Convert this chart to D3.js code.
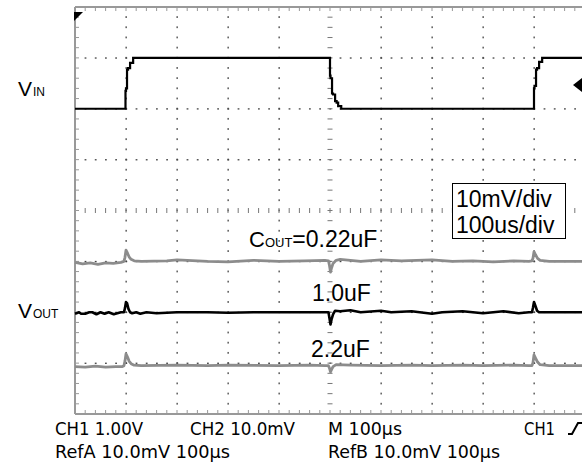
<!DOCTYPE html>
<html>
<head>
<meta charset="utf-8">
<script src="https://cdn.jsdelivr.net/npm/d3@7"></script>
<style>
  html, body { margin: 0; padding: 0; background: #fff; }
  svg { display: block; }
  .lbl { font-family: "Liberation Sans", Arial, sans-serif; fill: #000; }
  .scope { font-family: "Liberation Sans Narrow", "DejaVu Sans Condensed", "Liberation Sans", sans-serif; font-stretch: condensed; fill: #000; }
</style>
</head>
<body>
<svg id="chart" width="582" height="472"></svg>
<script>
// ---- data ----
// time axis: 0..1000 us (100 us/div, 10 div); vertical: -4..4 div
const timeTicks = [0, 100, 200, 300, 400, 500, 600, 700, 800, 900, 1000];
const divTicks = [-4, -3, -2, -1, 0, 1, 2, 3, 4];

// CH1 VIN [time us, volts], 1.00 V/div, channel position +2 div
const vinPos = 2;
const vinT = [0, 98, 99, 100, 102, 104, 108, 114, 498, 500, 501, 504, 506, 510, 513, 516, 522, 898, 900, 901, 904, 906, 910, 916, 1000];
const vinV = [0, 0, 0.35, 0.4, 0.77, 0.8, 0.9, 1.0, 1.0, 0.65, 0.6, 0.3, 0.28, 0.15, 0.12, 0.05, 0, 0, 0.4, 0.45, 0.77, 0.8, 0.92, 1.0, 1.0];

// VOUT traces [time us, mV], 10 mV/div
const voutNames = ["0.22uF", "1.0uF", "2.2uF"];
const voutPos = [-1, -2, -3.05];
const vout022T = [0, 15, 30, 45, 60, 75, 90, 96, 98, 100, 103, 106, 110, 116, 130, 180, 200, 260, 300, 350, 400, 450, 490, 497, 499, 501, 503, 506, 512, 520, 560, 600, 640, 700, 740, 780, 820, 860, 890, 896, 898, 900, 903, 907, 912, 930, 1000];
const vout022V = [-0.2, -0.5, -0.3, -0.6, -0.3, -0.4, -0.2, 0, 0.8, 2.2, 1.6, 0.9, 0.4, 0.1, 0, 0.1, 0.3, 0, -0.1, 0.2, 0, 0.1, 0.2, 0.1, -0.8, -2.1, -1.3, -0.4, 0.2, 0.4, 0, 0.3, 0.1, 0.3, 0, 0.1, -0.1, 0.1, 0, 0.1, 0.6, 1.9, 1.3, 0.6, 0.2, 0, 0];
const vout10T = [0, 8, 12, 20, 28, 34, 42, 50, 58, 66, 76, 90, 96, 98, 100, 102, 105, 108, 112, 120, 128, 140, 160, 200, 260, 300, 350, 400, 460, 490, 497, 499, 501, 503, 506, 510, 520, 540, 560, 600, 620, 660, 700, 720, 760, 800, 840, 870, 890, 896, 898, 900, 903, 906, 910, 940, 1000];
const vout10V = [-0.3, 0, -0.3, -0.3, 0, 0, -0.4, 0, -0.3, 0, -0.4, 0, 0, 0.8, 2.0, 1.8, 0.6, 0, -0.2, 0, -0.3, 0, -0.2, 0, 0, -0.1, 0, 0, 0, 0, 0, -1.2, -2.4, -1.4, -0.4, 0.3, 0.2, 0.4, 0, 0.3, 0, 0.2, -0.3, 0, 0.2, -0.2, 0.2, -0.2, 0, 0, 0.9, 2.0, 1.2, 0.3, 0, 0, 0];
const vout22T = [0, 20, 40, 60, 80, 92, 96, 98, 100, 103, 106, 110, 116, 130, 200, 260, 300, 400, 460, 490, 497, 499, 501, 503, 506, 512, 540, 600, 660, 700, 760, 800, 860, 890, 896, 898, 900, 903, 907, 912, 930, 1000];
const vout22V = [-0.2, -0.3, -0.1, -0.3, -0.2, -0.2, 0, 0.9, 2.3, 1.7, 0.9, 0.4, 0.1, 0, 0.1, 0, 0.1, 0, 0.1, 0, 0, -0.5, -1.2, -0.8, -0.2, 0.2, 0.1, 0, 0.1, 0, 0.1, 0, 0.1, 0, 0, 0.6, 2.1, 1.5, 0.7, 0.2, 0, 0];

const labels = ["=0.22uF", "1.0uF", "2.2uF"];
const boxLines = ["10mV/div", "100us/div"];
const statusRow1 = ["CH1 1.00V", "CH2 10.0mV", "M 100µs", "CH1"];
const statusRow2 = ["RefA 10.0mV 100µs", "RefB 10.0mV 100µs"];

// ---- drawing ----
const svg = d3.select("#chart");
const x = d3.scaleLinear().domain([0, 1000]).range([75, 585]);
const y = d3.scaleLinear().domain([-4, 4]).range([414, 7]);
const mvPerDiv = 10;

// grid dots on major lines
const g = svg.append("g");
const minorT = d3.range(0, 1001, 20);
const minorD = d3.range(-4, 4.001, 0.2);
timeTicks.filter(t => t > 0 && t < 1000 && t !== 500).forEach(t => {
  g.selectAll(null).data(minorD.slice(1, -1)).enter().append("rect")
    .attr("x", x(t) - 0.5).attr("y", d => y(d) - 1).attr("width", 1.3).attr("height", 1.8)
    .attr("fill", "#444");
});
divTicks.filter(d => d > -4 && d < 4 && d !== 0).forEach(dv => {
  g.selectAll(null).data(minorT.slice(1)).enter().append("rect")
    .attr("x", t => x(t) - 0.6).attr("y", y(dv) - 0.5).attr("width", 1.8).attr("height", 1.3)
    .attr("fill", "#444");
});
// center cross ticks
g.selectAll(null).data(minorT.slice(1)).enter().append("line")
  .attr("x1", t => x(t)).attr("x2", t => x(t))
  .attr("y1", y(0) - 2.5).attr("y2", y(0) + 2.5)
  .attr("stroke", "#777").attr("stroke-width", 1);
g.selectAll(null).data(minorD.slice(1, -1)).enter().append("line")
  .attr("x1", x(500) - 2.5).attr("x2", x(500) + 2.5)
  .attr("y1", d => y(d)).attr("y2", d => y(d))
  .attr("stroke", "#777").attr("stroke-width", 1);

// borders with inward ticks
const border = svg.append("g").attr("stroke", "#999").attr("fill", "none");
border.append("line").attr("x1", x(0)).attr("x2", x(1000)).attr("y1", y(4)).attr("y2", y(4)).attr("stroke-width", 2);
border.append("line").attr("x1", x(0)).attr("x2", x(1000)).attr("y1", y(-4)).attr("y2", y(-4)).attr("stroke-width", 2);
border.append("line").attr("x1", x(0)).attr("x2", x(0)).attr("y1", y(4)).attr("y2", y(-4)).attr("stroke-width", 2);
border.selectAll(null).data(minorT).enter().append("line")
  .attr("x1", t => x(t)).attr("x2", t => x(t)).attr("y1", y(4)).attr("y2", y(4) + 4).attr("stroke-width", 1);
border.selectAll(null).data(minorT).enter().append("line")
  .attr("x1", t => x(t)).attr("x2", t => x(t)).attr("y1", y(-4)).attr("y2", y(-4) - 4).attr("stroke-width", 1);
border.selectAll(null).data(minorD).enter().append("line")
  .attr("x1", x(0)).attr("x2", x(0) + 4).attr("y1", d => y(d)).attr("y2", d => y(d)).attr("stroke-width", 1);

// VOUT traces
const voutData = [
  d3.zip(vout022T, vout022V),
  d3.zip(vout10T, vout10V),
  d3.zip(vout22T, vout22V)
];
const voutColors = ["#8c8c8c", "#000", "#8c8c8c"];
voutData.forEach((pts, i) => {
  const line = d3.line().x(p => x(p[0])).y(p => y(voutPos[i] + p[1] / mvPerDiv)).curve(d3.curveLinear);
  svg.append("path").attr("d", line(pts)).attr("fill", "none")
    .attr("stroke", voutColors[i]).attr("stroke-width", i === 1 ? 2.6 : 2.8)
    .attr("stroke-linejoin", "round");
});

// VIN trace
const vinLine = d3.line().x(p => x(p[0])).y(p => y(vinPos + p[1])).curve(d3.curveStepAfter);
svg.append("path").attr("d", vinLine(d3.zip(vinT, vinV))).attr("fill", "none")
  .attr("stroke", "#000").attr("stroke-width", 2.2).attr("stroke-linejoin", "miter");

// markers
svg.append("path").attr("d", `M${x(0) - 1},${y(4) + 5} h9 l-9,9 z`).attr("fill", "#000");
svg.append("path").attr("d", `M573,85 L582,78 L582,92 Z`).attr("fill", "#000");

// labels
function vlabel(xp, yb, sub) {
  const t = svg.append("text").attr("class", "lbl").attr("x", xp).attr("y", yb).attr("font-size", 21);
  t.append("tspan").text("V");
  t.append("tspan").attr("font-size", 12).attr("dx", 1).text(sub);
}
vlabel(18, 96, "IN");
vlabel(18, 318, "OUT");

const cl = svg.append("text").attr("class", "lbl").attr("x", 249).attr("y", 247).attr("font-size", 22);
cl.append("tspan").text("C");
cl.append("tspan").attr("font-size", 13).text("OUT");
cl.append("tspan").attr("font-size", 23).text(labels[0]);
svg.append("text").attr("class", "lbl").attr("x", 312).attr("y", 301).attr("font-size", 23).text(labels[1]);
svg.append("text").attr("class", "lbl").attr("x", 311).attr("y", 357).attr("font-size", 23).text(labels[2]);

svg.append("rect").attr("x", 452.5).attr("y", 183.5).attr("width", 113).attr("height", 55)
  .attr("fill", "#fff").attr("stroke", "#000").attr("stroke-width", 1);
boxLines.forEach((s, i) => {
  svg.append("text").attr("class", "lbl").attr("x", 456).attr("y", 207 + i * 26).attr("font-size", 23).text(s);
});

// status text
const row1X = [55, 190, 328, 524];
const row1W = [88, 105, 74, 31];
statusRow1.forEach((s, i) => {
  svg.append("text").attr("class", "scope").attr("x", row1X[i]).attr("y", 435).attr("font-size", 18)
    .attr("textLength", row1W[i]).attr("lengthAdjust", "spacingAndGlyphs").text(s);
});
const row2X = [55, 328];
const row2W = [175, 172];
statusRow2.forEach((s, i) => {
  svg.append("text").attr("class", "scope").attr("x", row2X[i]).attr("y", 458).attr("font-size", 18)
    .attr("textLength", row2W[i]).attr("lengthAdjust", "spacingAndGlyphs").text(s);
});
svg.append("path").attr("d", "M568,434 h4 l6,-11 h4").attr("fill", "none").attr("stroke", "#000").attr("stroke-width", 2);
</script>
</body>
</html>
